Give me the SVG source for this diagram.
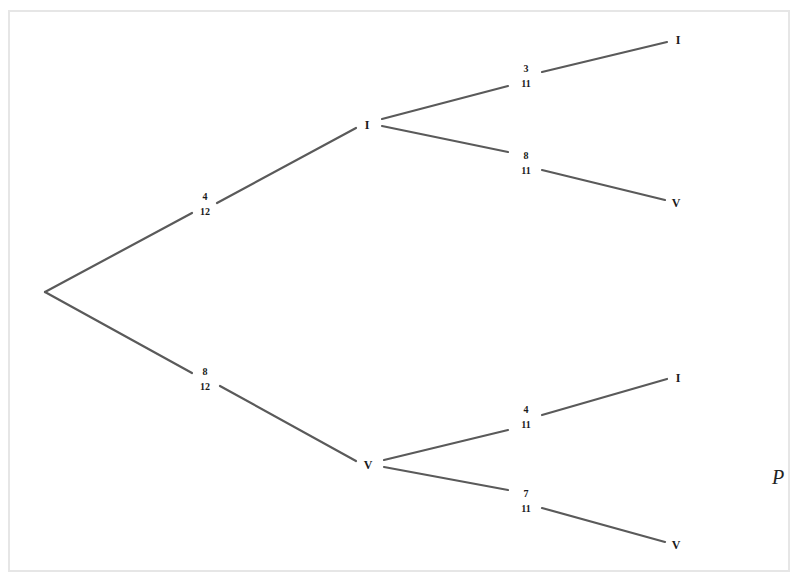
<svg xmlns="http://www.w3.org/2000/svg" width="795" height="574" viewBox="0 0 795 574">
<style>
.ln{stroke:#5a5a5a;stroke-width:2.2;fill:none;stroke-linecap:round}
.t{font-family:"Liberation Serif",serif;font-weight:bold;fill:#1a1a1a;text-anchor:middle}
.fr{font-size:10px}
.nd{font-size:12px}
</style>
<rect x="0" y="0" width="795" height="574" fill="#fff"/>
<rect x="9" y="11" width="780" height="560" fill="none" stroke="#e6e6e6" stroke-width="2"/>
<g id="connectors">
<line class="ln" x1="45" y1="292" x2="192" y2="213"/>
<line class="ln" x1="217" y1="203" x2="356" y2="128"/>
<line class="ln" x1="45" y1="292" x2="192" y2="373"/>
<line class="ln" x1="220" y1="386" x2="356" y2="461"/>
<line class="ln" x1="382" y1="119" x2="508" y2="86"/>
<line class="ln" x1="542" y1="72" x2="667" y2="42"/>
<line class="ln" x1="382" y1="126" x2="508" y2="152"/>
<line class="ln" x1="542" y1="170" x2="665" y2="200"/>
<line class="ln" x1="384" y1="460" x2="508" y2="430"/>
<line class="ln" x1="542" y1="415" x2="667" y2="379"/>
<line class="ln" x1="384" y1="467" x2="508" y2="490"/>
<line class="ln" x1="542" y1="508" x2="665" y2="542"/>
</g>
<g id="p1"><text class="t fr" x="205" y="200">4</text><text class="t fr" x="205" y="215">12</text></g>
<g id="p2"><text class="t fr" x="205" y="375">8</text><text class="t fr" x="205" y="390">12</text></g>
<g id="n-I"><text class="t nd" x="367" y="129">I</text></g>
<g id="n-V"><text class="t nd" x="368" y="469">V</text></g>
<g id="p3"><text class="t fr" x="526" y="72">3</text><text class="t fr" x="526" y="87">11</text></g>
<g id="p4"><text class="t fr" x="526" y="159">8</text><text class="t fr" x="526" y="174">11</text></g>
<g id="p5"><text class="t fr" x="526" y="413">4</text><text class="t fr" x="526" y="428">11</text></g>
<g id="p6"><text class="t fr" x="526" y="497">7</text><text class="t fr" x="526" y="512">11</text></g>
<g id="n-II"><text class="t nd" x="678" y="44">I</text></g>
<g id="n-IV"><text class="t nd" x="676" y="207">V</text></g>
<g id="n-VI"><text class="t nd" x="678" y="382">I</text></g>
<g id="n-VV"><text class="t nd" x="676" y="549">V</text></g>
<text x="772" y="484" font-family="Liberation Serif,serif" font-style="italic" font-size="20" fill="#222">P</text>
</svg>
